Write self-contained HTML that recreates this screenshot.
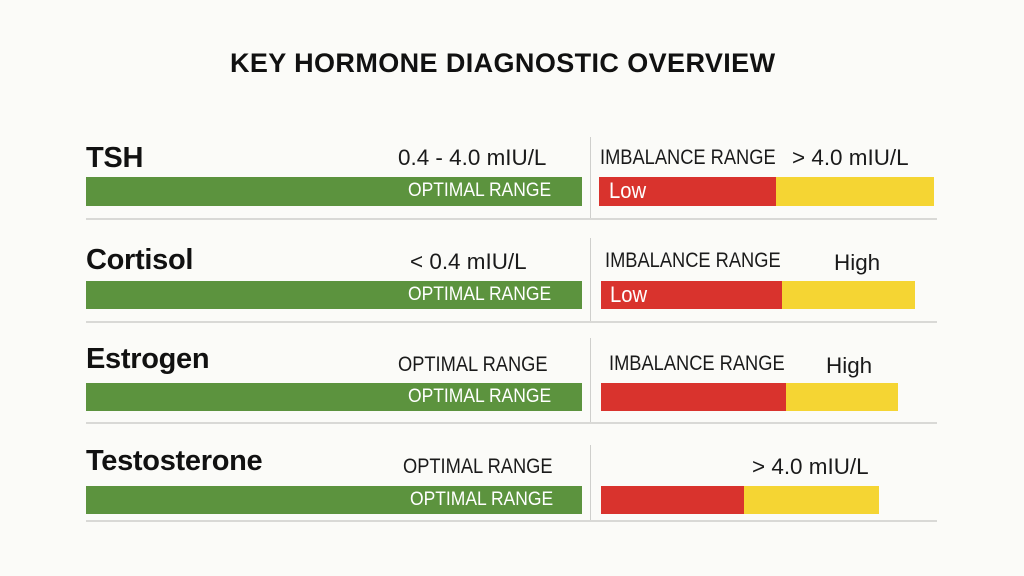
<!DOCTYPE html>
<html><head><style>
body{margin:0;width:1024px;height:576px;background:#fbfbf8;position:relative;overflow:hidden;font-family:"Liberation Sans",sans-serif;}
.a{position:absolute;white-space:nowrap;transform-origin:0 0;}
.t{font-weight:bold;font-size:27px;color:#111;letter-spacing:0.4px}
.lab{font-weight:bold;font-size:29px;color:#111;letter-spacing:-0.3px}
.s{font-size:21px;color:#1a1a1a;transform:scaleX(.87)}
.v2{font-size:22px;color:#1a1a1a;transform:scaleX(1.02)}
.g{background:#5c933e}
.r{background:#d9332d}
.y{background:#f5d533}
.w{color:#fff;font-size:19px;transform:scaleX(.92)}
.lo{color:#fff;font-size:22px;transform:scaleX(.92)}
.h{height:2px;background:#d9d9d6;left:86px;width:851px}
.v{width:1px;background:#cfcfcc;left:590px}
</style></head><body>
<div class="a t" style="left:230px;top:48px">KEY HORMONE DIAGNOSTIC OVERVIEW</div>

<div class="a lab" style="left:86px;top:142px">TSH</div>
<div class="a v2" style="left:398px;top:145px">0.4 - 4.0 mIU/L</div>
<div class="a s" style="left:600px;top:146px">IMBALANCE RANGE</div>
<div class="a v2" style="left:792px;top:145px">&gt; 4.0 mIU/L</div>
<div class="a g" style="left:86px;top:177px;width:496px;height:29px"></div>
<div class="a w" style="left:408px;top:180px">OPTIMAL RANGE</div>
<div class="a r" style="left:599px;top:177px;width:177px;height:29px"></div>
<div class="a y" style="left:776px;top:177px;width:158px;height:29px"></div>
<div class="a lo" style="left:609px;top:178px">Low</div>
<div class="a h" style="top:218px"></div>
<div class="a v" style="top:137px;height:81px"></div>

<div class="a lab" style="left:86px;top:244px">Cortisol</div>
<div class="a v2" style="left:410px;top:249px">&lt; 0.4 mIU/L</div>
<div class="a s" style="left:605px;top:249px">IMBALANCE RANGE</div>
<div class="a v2" style="left:834px;top:250px">High</div>
<div class="a g" style="left:86px;top:281px;width:496px;height:28px"></div>
<div class="a w" style="left:408px;top:284px">OPTIMAL RANGE</div>
<div class="a r" style="left:601px;top:281px;width:181px;height:28px"></div>
<div class="a y" style="left:782px;top:281px;width:133px;height:28px"></div>
<div class="a lo" style="left:610px;top:282px">Low</div>
<div class="a h" style="top:321px"></div>
<div class="a v" style="top:238px;height:83px"></div>

<div class="a lab" style="left:86px;top:343px">Estrogen</div>
<div class="a s" style="left:398px;top:353px">OPTIMAL RANGE</div>
<div class="a s" style="left:609px;top:352px">IMBALANCE RANGE</div>
<div class="a v2" style="left:826px;top:353px">High</div>
<div class="a g" style="left:86px;top:383px;width:496px;height:28px"></div>
<div class="a w" style="left:408px;top:386px">OPTIMAL RANGE</div>
<div class="a r" style="left:601px;top:383px;width:185px;height:28px"></div>
<div class="a y" style="left:786px;top:383px;width:112px;height:28px"></div>
<div class="a h" style="top:422px"></div>
<div class="a v" style="top:338px;height:84px"></div>

<div class="a lab" style="left:86px;top:445px">Testosterone</div>
<div class="a s" style="left:403px;top:455px">OPTIMAL RANGE</div>
<div class="a v2" style="left:752px;top:454px">&gt; 4.0 mIU/L</div>
<div class="a g" style="left:86px;top:486px;width:496px;height:28px"></div>
<div class="a w" style="left:410px;top:489px">OPTIMAL RANGE</div>
<div class="a r" style="left:601px;top:486px;width:143px;height:28px"></div>
<div class="a y" style="left:744px;top:486px;width:135px;height:28px"></div>
<div class="a h" style="top:520px"></div>
<div class="a v" style="top:445px;height:75px"></div>
</body></html>
